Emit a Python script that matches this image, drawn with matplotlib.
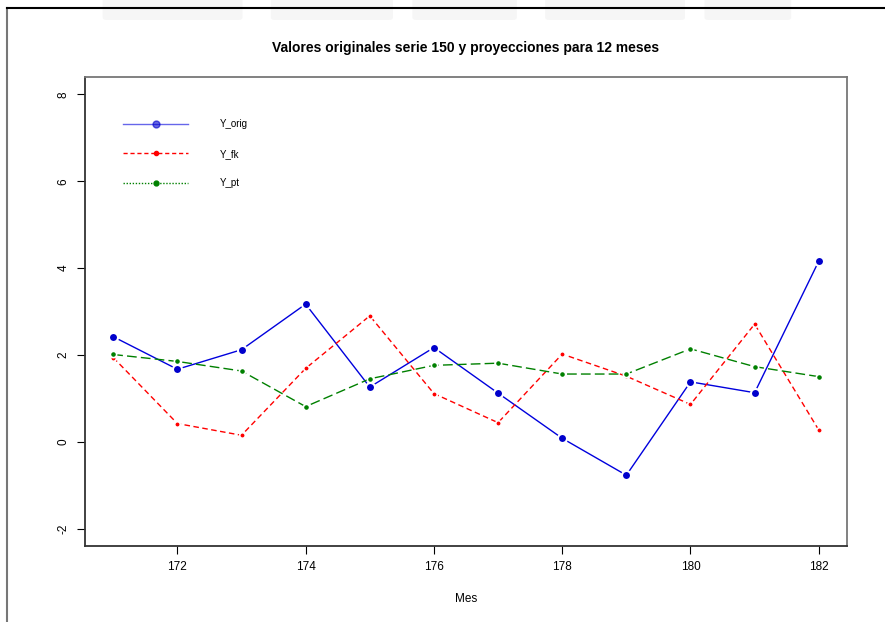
import numpy as np
import matplotlib.pyplot as plt
from matplotlib.lines import Line2D
from matplotlib.patches import FancyBboxPatch

plt.rcParams['font.family'] = ['Liberation Sans', 'DejaVu Sans']

# Meses y series
mes = [171, 172, 173, 174, 175, 176, 177, 178, 179, 180, 181, 182]
y_orig = [2.42, 1.67, 2.12, 3.17, 1.26, 2.17, 1.12, 0.08, -0.77, 1.38, 1.13, 4.16]
y_fk = [1.94, 0.42, 0.15, 1.69, 2.90, 1.11, 0.44, 2.02, 1.51, 0.86, 2.71, 0.27]
y_pt = [2.01, 1.85, 1.63, 0.81, 1.45, 1.76, 1.81, 1.56, 1.56, 2.14, 1.73, 1.50]

x_ticks = [172, 174, 176, 178, 180, 182]
y_ticks = [-2, 0, 2, 4, 6, 8]
series_names = ['Y_orig', 'Y_fk', 'Y_pt']

fig = plt.figure(figsize=(8.85, 6.22), dpi=100)

# faint watermark shapes at the top of the page
for x0, w in [(0.12, 0.15), (0.31, 0.13), (0.47, 0.11), (0.62, 0.15), (0.80, 0.09)]:
    fig.add_artist(FancyBboxPatch((x0, 0.972), w, 0.04, boxstyle='round,pad=0.004',
                                  transform=fig.transFigure, facecolor='#f6f6f6',
                                  edgecolor='none', zorder=0))

# outer page frame
fig.add_artist(Line2D([7/885, 7/885], [0, 1 - 8/622], color='#777777', lw=1.5))
fig.add_artist(Line2D([7/885, 1], [1 - 8/622, 1 - 8/622], color='black', lw=1.5))

ax = fig.add_axes([85/885, 1 - 546/622, (847 - 85)/885, (546 - 77)/622])

ax.plot(mes, y_orig, color='#0000dd', lw=1.0, ls='-', marker='o', ms=6.5,
        markerfacecolor='#0000cc', markeredgecolor='white', markeredgewidth=1.5)
ax.plot(mes, y_fk, color='red', lw=1.0, ls=(0, (4, 2.5)), marker='o', ms=4,
        markerfacecolor='red', markeredgecolor='white', markeredgewidth=1.2)
ax.plot(mes, y_pt, color='green', lw=1.0, ls=(0, (7, 3)), marker='o', ms=4.5,
        markerfacecolor='green', markeredgecolor='white', markeredgewidth=1.2)

ax.set_xlim(170.56, 182.44)
ax.set_ylim(-2.4, 8.4)
ax.set_xticks(x_ticks)
ax.set_yticks(y_ticks)
ax.set_yticklabels([str(v) for v in y_ticks], rotation=90, va='center')
ax.tick_params(axis='both', direction='out', length=6, labelsize=8.5)
ax.tick_params(axis='x', pad=5)
ax.tick_params(axis='y', pad=5)

for side in ['left', 'bottom']:
    ax.spines[side].set_color('#333333')
    ax.spines[side].set_linewidth(1.3)
for side in ['top', 'right']:
    ax.spines[side].set_color('#777777')
    ax.spines[side].set_linewidth(1.3)

ax.set_xlabel('Mes', fontsize=8.5, labelpad=14)
ax.set_title('Valores originales serie 150 y proyecciones para 12 meses',
             fontsize=10, fontweight='bold', pad=18)

# legend as drawn by R: Y_pt shown dotted
handles = [
    Line2D([], [], color='#0000dd', lw=1.0, alpha=0.6, marker='o', ms=5,
           markerfacecolor='#0000cc', markeredgecolor='#0000cc'),
    Line2D([], [], color='red', lw=1.0, ls=(0, (3, 2)), marker='o', ms=3,
           markerfacecolor='red', markeredgecolor='red'),
    Line2D([], [], color='green', lw=1.0, ls=(0, (1, 1.2)), marker='o', ms=3.5,
           markerfacecolor='green', markeredgecolor='green'),
]
ax.legend(handles, series_names, loc='upper left', bbox_to_anchor=(0.05, 0.91),
          frameon=False, fontsize=7, handlelength=6.7, handletextpad=3.2,
          labelspacing=2.0, borderpad=0, borderaxespad=0)

fig.savefig('out.png', dpi=100)
